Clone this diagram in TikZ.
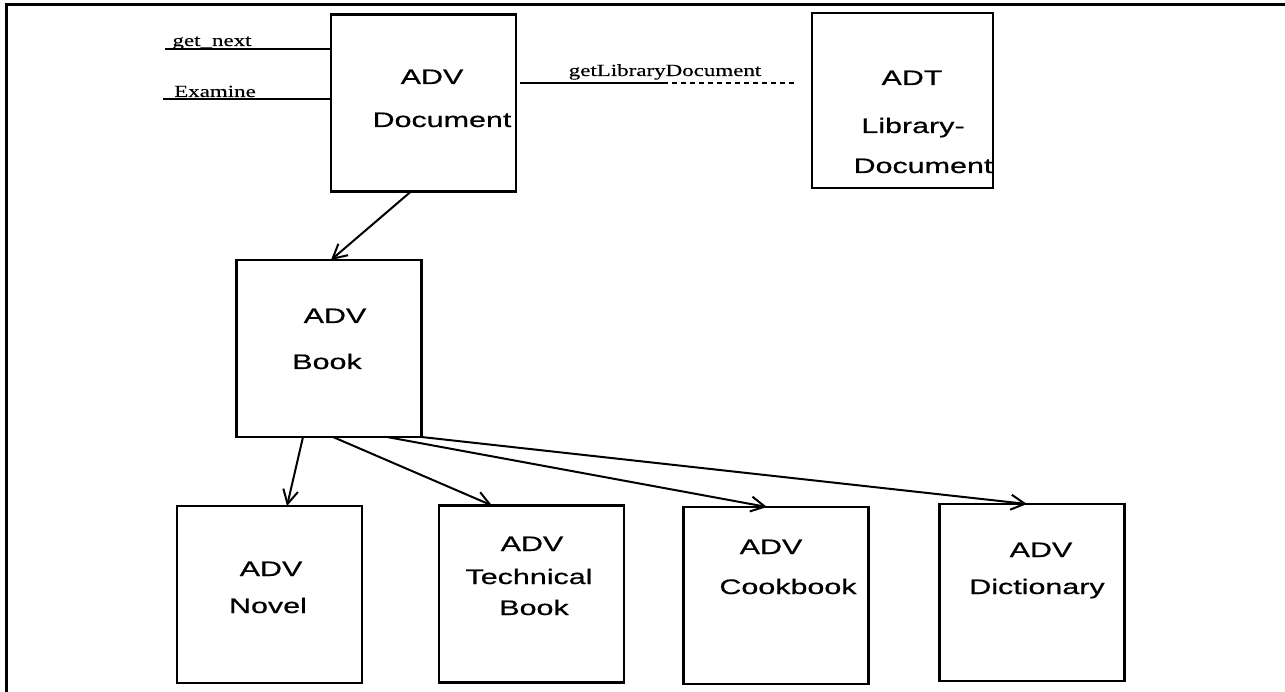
\documentclass[tikz,border=0pt]{standalone}
\usepackage{fontspec}
\newfontfamily\boxfont[FakeStretch=1.45,FakeBold=0.6]{Liberation Sans}
\newfontfamily\lblfont[FakeStretch=1.35,FakeBold=0.3]{Liberation Serif}
\usetikzlibrary{arrows.meta}
\tikzset{
  adv/.style={draw, line width=2.4pt, minimum width=185pt, minimum height=177pt,
    inner sep=0pt, outer sep=0pt},
  txt/.style={anchor=base, inner sep=0pt, font=\boxfont\fontsize{21}{25}\selectfont},
  lbl/.style={anchor=base, inner sep=0pt, font=\lblfont\fontsize{17}{20}\selectfont},
  isa/.style={-{Straight Barb[length=14pt,width=15pt]}, line width=2pt}
}
\begin{document}
\begin{tikzpicture}[x=1pt,y=-1pt]
  \useasboundingbox (0,0) rectangle (1285,692);
  \draw[line width=3pt] (6,692) -- (6,5) -- (1285,5);

  \node[adv] (doc) at (423.5,103) {};
  \node[adv, minimum width=181pt, minimum height=175pt] (lib) at (902.5,100.5) {};
  \node[adv] (book) at (329,348.5) {};
  \node[adv] (novel) at (269.5,594.5) {};
  \node[adv] (tech) at (531.5,594) {};
  \node[adv] (cook) at (776,595.5) {};
  \node[adv] (dict) at (1032,592.5) {};

  \node[txt] (docA) at (432,84) {ADV};
  \node[txt] (docB) at (442,127) {Document};
  \node[txt] (libA) at (912,85) {ADT};
  \node[txt] (libB) at (913,133) {Library-};
  \node[txt] (libC) at (923,173) {Document};
  \node[txt] (bookA) at (335,323) {ADV};
  \node[txt] (bookB) at (327,369) {Book};
  \node[txt] (novelA) at (271,576) {ADV};
  \node[txt] (novelB) at (268,613) {Novel};
  \node[txt] (techA) at (532,551) {ADV};
  \node[txt] (techB) at (529,584) {Technical};
  \node[txt] (techC) at (534,615) {Book};
  \node[txt] (cookA) at (771,554) {ADV};
  \node[txt] (cookB) at (788,594) {Cookbook};
  \node[txt] (dictA) at (1041,557) {ADV};
  \node[txt] (dictB) at (1037,594) {Dictionary};

  % operations
  \coordinate (gn) at (165,49);
  \coordinate (ex) at (163,99);
  \coordinate (gl) at (663,83);
  \draw[line width=2.2pt] (gn) -- (gn -| doc.west);
  \draw[line width=2.2pt] (ex) -- (ex -| doc.west);
  \node[lbl] (gnL) at (212,46) {get\_next};
  \node[lbl] (exL) at (215,97) {Examine};
  \draw[line width=2pt, shorten <=4pt] (doc.east |- gl) -- (gl);
  \draw[line width=2pt, dash pattern=on 5pt off 4pt, shorten >=15pt] (gl) -- (gl -| lib.west);
  \node[lbl] (glL) at (665,76) {getLibraryDocument};

  \path[isa] ([xshift=-12.5pt]doc.south) edge ([xshift=2pt]book.north);
  \path[isa] ([xshift=-26pt]book.south) edge ([xshift=17.5pt]novel.north);
  \path[isa] ([xshift=4pt]book.south) edge ([xshift=-39.5pt]tech.north);
  \path[isa] ([xshift=58pt]book.south) edge ([xshift=-9pt]cook.north);
  \path[isa] (book.south east) edge ([xshift=-5pt]dict.north);
\end{tikzpicture}
\end{document}
